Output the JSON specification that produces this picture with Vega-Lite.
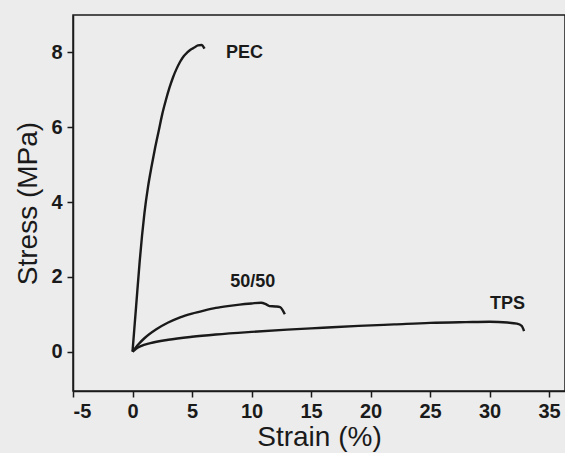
{
  "$schema": "https://vega.github.io/schema/vega-lite/v6.json",
  "width": 492,
  "height": 376,
  "autosize": {"type": "none"},
  "padding": {"left": 73, "top": 15, "right": 0, "bottom": 62},
  "background": "#ececec",
  "config": {
    "view": {"stroke": "#1a1a1a", "strokeWidth": 1.5, "fill": "#ececec"},
    "font": "Liberation Sans",
    "axis": {
      "domainColor": "#1a1a1a", "domainWidth": 1.5,
      "tickColor": "#1a1a1a", "tickWidth": 1.5, "tickSize": 6,
      "labelColor": "#1a1a1a", "labelFont": "Liberation Sans", "labelFontSize": 20, "labelFontWeight": "bold",
      "titleColor": "#1a1a1a", "titleFont": "Liberation Sans", "titleFontSize": 28, "titleFontWeight": "normal",
      "labelExpr": "'' + datum.value",
      "grid": false
    }
  },
  "datasets": {
    "curves": [
      {"series": "PEC", "strain": 0, "stress": 0},
      {"series": "PEC", "strain": 0.3, "stress": 1.2},
      {"series": "PEC", "strain": 0.6, "stress": 2.4},
      {"series": "PEC", "strain": 0.8, "stress": 3.1},
      {"series": "PEC", "strain": 1.0, "stress": 3.7},
      {"series": "PEC", "strain": 1.3, "stress": 4.4},
      {"series": "PEC", "strain": 1.6, "stress": 4.95},
      {"series": "PEC", "strain": 1.9, "stress": 5.45},
      {"series": "PEC", "strain": 2.2, "stress": 5.9},
      {"series": "PEC", "strain": 2.5, "stress": 6.35},
      {"series": "PEC", "strain": 2.8, "stress": 6.72},
      {"series": "PEC", "strain": 3.1, "stress": 7.05},
      {"series": "PEC", "strain": 3.4, "stress": 7.33},
      {"series": "PEC", "strain": 3.7, "stress": 7.56},
      {"series": "PEC", "strain": 4.0, "stress": 7.75},
      {"series": "PEC", "strain": 4.3, "stress": 7.9},
      {"series": "PEC", "strain": 4.6, "stress": 8.0},
      {"series": "PEC", "strain": 4.9, "stress": 8.08},
      {"series": "PEC", "strain": 5.2, "stress": 8.13},
      {"series": "PEC", "strain": 5.5, "stress": 8.19},
      {"series": "PEC", "strain": 5.8, "stress": 8.2},
      {"series": "PEC", "strain": 6.05, "stress": 8.1},
      {"series": "50/50", "strain": 0, "stress": 0},
      {"series": "50/50", "strain": 0.5, "stress": 0.2},
      {"series": "50/50", "strain": 1, "stress": 0.36},
      {"series": "50/50", "strain": 2, "stress": 0.6},
      {"series": "50/50", "strain": 3, "stress": 0.78},
      {"series": "50/50", "strain": 4, "stress": 0.92},
      {"series": "50/50", "strain": 5, "stress": 1.02},
      {"series": "50/50", "strain": 6, "stress": 1.1},
      {"series": "50/50", "strain": 7, "stress": 1.17},
      {"series": "50/50", "strain": 8, "stress": 1.22},
      {"series": "50/50", "strain": 9, "stress": 1.26},
      {"series": "50/50", "strain": 10, "stress": 1.29},
      {"series": "50/50", "strain": 10.8, "stress": 1.31},
      {"series": "50/50", "strain": 11.2, "stress": 1.27},
      {"series": "50/50", "strain": 11.5, "stress": 1.22},
      {"series": "50/50", "strain": 12, "stress": 1.21},
      {"series": "50/50", "strain": 12.4, "stress": 1.19},
      {"series": "50/50", "strain": 12.6, "stress": 1.12},
      {"series": "50/50", "strain": 12.8, "stress": 1.0},
      {"series": "TPS", "strain": 0, "stress": 0},
      {"series": "TPS", "strain": 0.3, "stress": 0.08},
      {"series": "TPS", "strain": 0.7, "stress": 0.15},
      {"series": "TPS", "strain": 1.5, "stress": 0.23},
      {"series": "TPS", "strain": 3, "stress": 0.32},
      {"series": "TPS", "strain": 5, "stress": 0.4},
      {"series": "TPS", "strain": 7, "stress": 0.46},
      {"series": "TPS", "strain": 10, "stress": 0.53},
      {"series": "TPS", "strain": 13, "stress": 0.59},
      {"series": "TPS", "strain": 16, "stress": 0.64},
      {"series": "TPS", "strain": 19, "stress": 0.69},
      {"series": "TPS", "strain": 22, "stress": 0.73},
      {"series": "TPS", "strain": 25, "stress": 0.77},
      {"series": "TPS", "strain": 28, "stress": 0.79},
      {"series": "TPS", "strain": 30, "stress": 0.8},
      {"series": "TPS", "strain": 31.5, "stress": 0.78},
      {"series": "TPS", "strain": 32.3, "stress": 0.75},
      {"series": "TPS", "strain": 32.7, "stress": 0.69},
      {"series": "TPS", "strain": 32.9, "stress": 0.55}
    ],
    "labels": [
      {"label": "PEC", "strain": 9.4, "stress": 7.98},
      {"label": "50/50", "strain": 10.1, "stress": 1.86},
      {"label": "TPS", "strain": 31.5, "stress": 1.28}
    ]
  },
  "layer": [
    {
      "data": {"name": "curves"},
      "mark": {"type": "line", "color": "#1a1a1a", "strokeWidth": 2.4, "interpolate": "monotone", "clip": true},
      "encoding": {
        "x": {"field": "strain", "type": "quantitative",
              "scale": {"domain": [-5, 36.34], "nice": false, "zero": false},
              "axis": {"values": [-5, 0, 5, 10, 15, 20, 25, 30, 35], "title": "Strain (%)", "labelPadding": 4, "titlePadding": 2}},
        "y": {"field": "stress", "type": "quantitative",
              "scale": {"domain": [-1.05, 9], "nice": false, "zero": false},
              "axis": {"values": [0, 2, 4, 6, 8], "title": "Stress (MPa)", "labelPadding": 5, "titlePadding": 8}},
        "detail": {"field": "series"},
        "order": {"field": "strain", "type": "quantitative"}
      }
    },
    {
      "data": {"name": "labels"},
      "mark": {"type": "text", "color": "#1a1a1a", "font": "Liberation Sans", "fontSize": 18, "fontWeight": "bold", "align": "center", "baseline": "middle"},
      "encoding": {
        "x": {"field": "strain", "type": "quantitative"},
        "y": {"field": "stress", "type": "quantitative"},
        "text": {"field": "label"}
      }
    }
  ]
}
